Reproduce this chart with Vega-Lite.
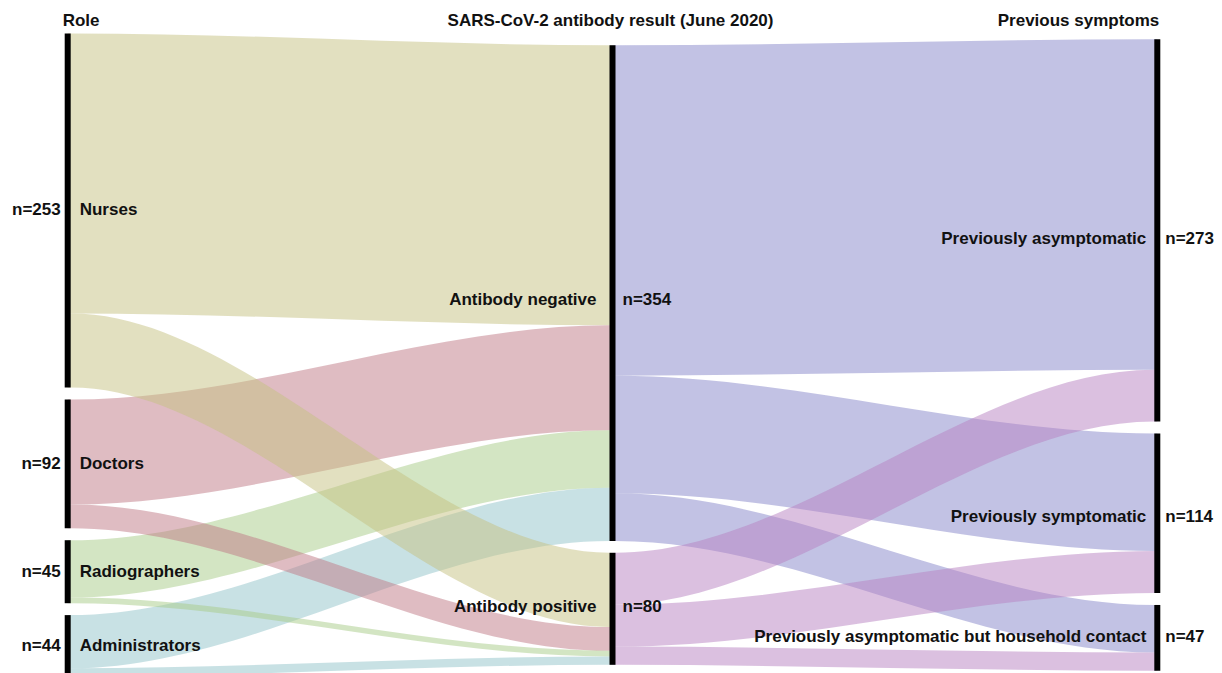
{
  "$schema": "https://vega.github.io/schema/vega-lite/v6.json",
  "width": 1222,
  "height": 673,
  "autosize": "none",
  "padding": 0,
  "background": "white",
  "config": {"view": {"stroke": null}, "text": {"font": "Liberation Sans", "fontWeight": "bold", "fontSize": 17, "color": "#111111"}},
  "datasets": {
    "links": [
      {"link": "N-neg", "src": "Nurses", "x": 0, "top": 23.85, "bottom": 223.85},
      {"link": "N-neg", "src": "Nurses", "x": 0.006, "top": 23.85, "bottom": 223.85},
      {"link": "N-neg", "src": "Nurses", "x": 0.994, "top": 32.35, "bottom": 232.35},
      {"link": "N-neg", "src": "Nurses", "x": 1, "top": 32.35, "bottom": 232.35},
      {"link": "D-neg", "src": "Doctors", "x": 0, "top": 285.35, "bottom": 360.35},
      {"link": "D-neg", "src": "Doctors", "x": 0.006, "top": 285.35, "bottom": 360.35},
      {"link": "D-neg", "src": "Doctors", "x": 0.994, "top": 232.35, "bottom": 307.35},
      {"link": "D-neg", "src": "Doctors", "x": 1, "top": 232.35, "bottom": 307.35},
      {"link": "R-neg", "src": "Radiographers", "x": 0, "top": 385.85, "bottom": 426.85},
      {"link": "R-neg", "src": "Radiographers", "x": 0.006, "top": 385.85, "bottom": 426.85},
      {"link": "R-neg", "src": "Radiographers", "x": 0.994, "top": 307.35, "bottom": 348.35},
      {"link": "R-neg", "src": "Radiographers", "x": 1, "top": 307.35, "bottom": 348.35},
      {"link": "A-neg", "src": "Administrators", "x": 0, "top": 439.35, "bottom": 477.35},
      {"link": "A-neg", "src": "Administrators", "x": 0.006, "top": 439.35, "bottom": 477.35},
      {"link": "A-neg", "src": "Administrators", "x": 0.994, "top": 348.35, "bottom": 386.35},
      {"link": "A-neg", "src": "Administrators", "x": 1, "top": 348.35, "bottom": 386.35},
      {"link": "N-pos", "src": "Nurses", "x": 0, "top": 223.85, "bottom": 276.85},
      {"link": "N-pos", "src": "Nurses", "x": 0.006, "top": 223.85, "bottom": 276.85},
      {"link": "N-pos", "src": "Nurses", "x": 0.994, "top": 394.85, "bottom": 447.85},
      {"link": "N-pos", "src": "Nurses", "x": 1, "top": 394.85, "bottom": 447.85},
      {"link": "D-pos", "src": "Doctors", "x": 0, "top": 360.35, "bottom": 377.35},
      {"link": "D-pos", "src": "Doctors", "x": 0.006, "top": 360.35, "bottom": 377.35},
      {"link": "D-pos", "src": "Doctors", "x": 0.994, "top": 447.85, "bottom": 464.85},
      {"link": "D-pos", "src": "Doctors", "x": 1, "top": 447.85, "bottom": 464.85},
      {"link": "R-pos", "src": "Radiographers", "x": 0, "top": 426.85, "bottom": 430.85},
      {"link": "R-pos", "src": "Radiographers", "x": 0.006, "top": 426.85, "bottom": 430.85},
      {"link": "R-pos", "src": "Radiographers", "x": 0.994, "top": 464.85, "bottom": 468.85},
      {"link": "R-pos", "src": "Radiographers", "x": 1, "top": 464.85, "bottom": 468.85},
      {"link": "A-pos", "src": "Administrators", "x": 0, "top": 477.35, "bottom": 483.35},
      {"link": "A-pos", "src": "Administrators", "x": 0.006, "top": 477.35, "bottom": 483.35},
      {"link": "A-pos", "src": "Administrators", "x": 0.994, "top": 468.85, "bottom": 474.85},
      {"link": "A-pos", "src": "Administrators", "x": 1, "top": 468.85, "bottom": 474.85},
      {"link": "neg-asym", "src": "Antibody negative", "x": 1, "top": 32.35, "bottom": 268.35},
      {"link": "neg-asym", "src": "Antibody negative", "x": 1.006, "top": 32.35, "bottom": 268.35},
      {"link": "neg-asym", "src": "Antibody negative", "x": 1.994, "top": 28.1, "bottom": 264.1},
      {"link": "neg-asym", "src": "Antibody negative", "x": 2, "top": 28.1, "bottom": 264.1},
      {"link": "neg-sym", "src": "Antibody negative", "x": 1, "top": 268.35, "bottom": 352.35},
      {"link": "neg-sym", "src": "Antibody negative", "x": 1.006, "top": 268.35, "bottom": 352.35},
      {"link": "neg-sym", "src": "Antibody negative", "x": 1.994, "top": 309.6, "bottom": 393.6},
      {"link": "neg-sym", "src": "Antibody negative", "x": 2, "top": 309.6, "bottom": 393.6},
      {"link": "neg-house", "src": "Antibody negative", "x": 1, "top": 352.35, "bottom": 386.35},
      {"link": "neg-house", "src": "Antibody negative", "x": 1.006, "top": 352.35, "bottom": 386.35},
      {"link": "neg-house", "src": "Antibody negative", "x": 1.994, "top": 432.1, "bottom": 466.1},
      {"link": "neg-house", "src": "Antibody negative", "x": 2, "top": 432.1, "bottom": 466.1},
      {"link": "pos-asym", "src": "Antibody positive", "x": 1, "top": 394.85, "bottom": 431.85},
      {"link": "pos-asym", "src": "Antibody positive", "x": 1.006, "top": 394.85, "bottom": 431.85},
      {"link": "pos-asym", "src": "Antibody positive", "x": 1.994, "top": 264.1, "bottom": 301.1},
      {"link": "pos-asym", "src": "Antibody positive", "x": 2, "top": 264.1, "bottom": 301.1},
      {"link": "pos-sym", "src": "Antibody positive", "x": 1, "top": 431.85, "bottom": 461.85},
      {"link": "pos-sym", "src": "Antibody positive", "x": 1.006, "top": 431.85, "bottom": 461.85},
      {"link": "pos-sym", "src": "Antibody positive", "x": 1.994, "top": 393.6, "bottom": 423.6},
      {"link": "pos-sym", "src": "Antibody positive", "x": 2, "top": 393.6, "bottom": 423.6},
      {"link": "pos-house", "src": "Antibody positive", "x": 1, "top": 461.85, "bottom": 474.85},
      {"link": "pos-house", "src": "Antibody positive", "x": 1.006, "top": 461.85, "bottom": 474.85},
      {"link": "pos-house", "src": "Antibody positive", "x": 1.994, "top": 466.1, "bottom": 479.1},
      {"link": "pos-house", "src": "Antibody positive", "x": 2, "top": 466.1, "bottom": 479.1}
    ],
    "nodes": [
      {"stage": 0, "key": "nurses", "name": "Nurses", "nlabel": "n=253", "top": 23.85, "bottom": 276.85},
      {"stage": 0, "key": "doctors", "name": "Doctors", "nlabel": "n=92", "top": 285.35, "bottom": 377.35},
      {"stage": 0, "key": "radio", "name": "Radiographers", "nlabel": "n=45", "top": 385.85, "bottom": 430.85},
      {"stage": 0, "key": "admin", "name": "Administrators", "nlabel": "n=44", "top": 439.35, "bottom": 483.35},
      {"stage": 1, "key": "neg", "name": "Antibody negative", "nlabel": "n=354", "top": 32.35, "bottom": 386.35},
      {"stage": 1, "key": "pos", "name": "Antibody positive", "nlabel": "n=80", "top": 394.85, "bottom": 474.85},
      {"stage": 2, "key": "asym", "name": "Previously asymptomatic", "nlabel": "n=273", "top": 28.1, "bottom": 301.1},
      {"stage": 2, "key": "sym", "name": "Previously symptomatic", "nlabel": "n=114", "top": 309.6, "bottom": 423.6},
      {"stage": 2, "key": "house", "name": "Previously asymptomatic but household contact", "nlabel": "n=47", "top": 432.1, "bottom": 479.1}
    ],
    "headers": [
      {"stage": 0, "header": "Role", "ypos": 14},
      {"stage": 1, "header": "SARS-CoV-2 antibody result (June 2020)", "ypos": 14},
      {"stage": 2, "header": "Previous symptoms", "ypos": 14}
    ]
  },
  "layer": [
    {
      "data": {"name": "links"},
      "mark": {"type": "area", "interpolate": "monotone", "opacity": 0.5},
      "encoding": {
        "x": {"field": "x", "type": "quantitative", "scale": {"domain": [-0.12427, 2.11876], "nice": false, "zero": false}, "axis": null},
        "y": {"field": "top", "type": "quantitative", "stack": null, "scale": {"domain": [0, 480.7], "reverse": true, "nice": false, "zero": false}, "axis": null},
        "y2": {"field": "bottom"},
        "color": {"field": "src", "type": "nominal", "legend": null,
          "scale": {"domain": ["Nurses", "Doctors", "Radiographers", "Administrators", "Antibody negative", "Antibody positive"],
                    "range": ["#c5c181", "#bf7985", "#a7cb87", "#91c3c9", "#8585c9", "#b781c1"]}},
        "detail": {"field": "link", "type": "nominal"}
      }
    },
    {
      "data": {"name": "nodes"},
      "mark": {"type": "rule", "strokeWidth": 6, "color": "black", "strokeCap": "butt"},
      "encoding": {
        "x": {"field": "stage", "type": "quantitative", "scale": {"domain": [-0.12427, 2.11876], "nice": false, "zero": false}, "axis": null},
        "y": {"field": "top", "type": "quantitative", "scale": {"domain": [0, 480.7], "reverse": true, "nice": false, "zero": false}, "axis": null},
        "y2": {"field": "bottom"}
      }
    },
    {
      "data": {"name": "nodes"},
      "transform": [{"filter": "datum.stage == 0"}, {"calculate": "(datum.top + datum.bottom) / 2", "as": "mid"}],
      "mark": {"type": "text", "align": "left", "baseline": "middle", "dx": 12},
      "encoding": {
        "x": {"field": "stage", "type": "quantitative", "scale": {"domain": [-0.12427, 2.11876], "nice": false, "zero": false}, "axis": null},
        "y": {"field": "mid", "type": "quantitative", "scale": {"domain": [0, 480.7], "reverse": true, "nice": false, "zero": false}, "axis": null},
        "text": {"field": "name"}
      }
    },
    {
      "data": {"name": "nodes"},
      "transform": [{"filter": "datum.stage == 0"}, {"calculate": "(datum.top + datum.bottom) / 2", "as": "mid"}],
      "mark": {"type": "text", "align": "right", "baseline": "middle", "dx": -7},
      "encoding": {
        "x": {"field": "stage", "type": "quantitative", "scale": {"domain": [-0.12427, 2.11876], "nice": false, "zero": false}, "axis": null},
        "y": {"field": "mid", "type": "quantitative", "scale": {"domain": [0, 480.7], "reverse": true, "nice": false, "zero": false}, "axis": null},
        "text": {"field": "nlabel"}
      }
    },
    {
      "data": {"name": "nodes"},
      "transform": [{"filter": "datum.key == 'neg'"}, {"calculate": "(datum.top + datum.bottom) / 2", "as": "mid"}],
      "mark": {"type": "text", "align": "right", "baseline": "middle", "dx": -16, "dy": 7},
      "encoding": {
        "x": {"field": "stage", "type": "quantitative", "scale": {"domain": [-0.12427, 2.11876], "nice": false, "zero": false}, "axis": null},
        "y": {"field": "mid", "type": "quantitative", "scale": {"domain": [0, 480.7], "reverse": true, "nice": false, "zero": false}, "axis": null},
        "text": {"field": "name"}
      }
    },
    {
      "data": {"name": "nodes"},
      "transform": [{"filter": "datum.key == 'neg'"}, {"calculate": "(datum.top + datum.bottom) / 2", "as": "mid"}],
      "mark": {"type": "text", "align": "left", "baseline": "middle", "dx": 10, "dy": 7},
      "encoding": {
        "x": {"field": "stage", "type": "quantitative", "scale": {"domain": [-0.12427, 2.11876], "nice": false, "zero": false}, "axis": null},
        "y": {"field": "mid", "type": "quantitative", "scale": {"domain": [0, 480.7], "reverse": true, "nice": false, "zero": false}, "axis": null},
        "text": {"field": "nlabel"}
      }
    },
    {
      "data": {"name": "nodes"},
      "transform": [{"filter": "datum.key == 'pos'"}, {"calculate": "(datum.top + datum.bottom) / 2", "as": "mid"}],
      "mark": {"type": "text", "align": "right", "baseline": "middle", "dx": -16, "dy": -2},
      "encoding": {
        "x": {"field": "stage", "type": "quantitative", "scale": {"domain": [-0.12427, 2.11876], "nice": false, "zero": false}, "axis": null},
        "y": {"field": "mid", "type": "quantitative", "scale": {"domain": [0, 480.7], "reverse": true, "nice": false, "zero": false}, "axis": null},
        "text": {"field": "name"}
      }
    },
    {
      "data": {"name": "nodes"},
      "transform": [{"filter": "datum.key == 'pos'"}, {"calculate": "(datum.top + datum.bottom) / 2", "as": "mid"}],
      "mark": {"type": "text", "align": "left", "baseline": "middle", "dx": 10, "dy": -2},
      "encoding": {
        "x": {"field": "stage", "type": "quantitative", "scale": {"domain": [-0.12427, 2.11876], "nice": false, "zero": false}, "axis": null},
        "y": {"field": "mid", "type": "quantitative", "scale": {"domain": [0, 480.7], "reverse": true, "nice": false, "zero": false}, "axis": null},
        "text": {"field": "nlabel"}
      }
    },
    {
      "data": {"name": "nodes"},
      "transform": [{"filter": "datum.key == 'asym'"}, {"calculate": "(datum.top + datum.bottom) / 2", "as": "mid"}],
      "mark": {"type": "text", "align": "right", "baseline": "middle", "dx": -11, "dy": 9},
      "encoding": {
        "x": {"field": "stage", "type": "quantitative", "scale": {"domain": [-0.12427, 2.11876], "nice": false, "zero": false}, "axis": null},
        "y": {"field": "mid", "type": "quantitative", "scale": {"domain": [0, 480.7], "reverse": true, "nice": false, "zero": false}, "axis": null},
        "text": {"field": "name"}
      }
    },
    {
      "data": {"name": "nodes"},
      "transform": [{"filter": "datum.key == 'asym'"}, {"calculate": "(datum.top + datum.bottom) / 2", "as": "mid"}],
      "mark": {"type": "text", "align": "left", "baseline": "middle", "dx": 8, "dy": 9},
      "encoding": {
        "x": {"field": "stage", "type": "quantitative", "scale": {"domain": [-0.12427, 2.11876], "nice": false, "zero": false}, "axis": null},
        "y": {"field": "mid", "type": "quantitative", "scale": {"domain": [0, 480.7], "reverse": true, "nice": false, "zero": false}, "axis": null},
        "text": {"field": "nlabel"}
      }
    },
    {
      "data": {"name": "nodes"},
      "transform": [{"filter": "datum.key == 'sym'"}, {"calculate": "(datum.top + datum.bottom) / 2", "as": "mid"}],
      "mark": {"type": "text", "align": "right", "baseline": "middle", "dx": -11, "dy": 4},
      "encoding": {
        "x": {"field": "stage", "type": "quantitative", "scale": {"domain": [-0.12427, 2.11876], "nice": false, "zero": false}, "axis": null},
        "y": {"field": "mid", "type": "quantitative", "scale": {"domain": [0, 480.7], "reverse": true, "nice": false, "zero": false}, "axis": null},
        "text": {"field": "name"}
      }
    },
    {
      "data": {"name": "nodes"},
      "transform": [{"filter": "datum.key == 'sym'"}, {"calculate": "(datum.top + datum.bottom) / 2", "as": "mid"}],
      "mark": {"type": "text", "align": "left", "baseline": "middle", "dx": 8, "dy": 4},
      "encoding": {
        "x": {"field": "stage", "type": "quantitative", "scale": {"domain": [-0.12427, 2.11876], "nice": false, "zero": false}, "axis": null},
        "y": {"field": "mid", "type": "quantitative", "scale": {"domain": [0, 480.7], "reverse": true, "nice": false, "zero": false}, "axis": null},
        "text": {"field": "nlabel"}
      }
    },
    {
      "data": {"name": "nodes"},
      "transform": [{"filter": "datum.key == 'house'"}, {"calculate": "(datum.top + datum.bottom) / 2", "as": "mid"}],
      "mark": {"type": "text", "align": "right", "baseline": "middle", "dx": -11, "dy": -1},
      "encoding": {
        "x": {"field": "stage", "type": "quantitative", "scale": {"domain": [-0.12427, 2.11876], "nice": false, "zero": false}, "axis": null},
        "y": {"field": "mid", "type": "quantitative", "scale": {"domain": [0, 480.7], "reverse": true, "nice": false, "zero": false}, "axis": null},
        "text": {"field": "name"}
      }
    },
    {
      "data": {"name": "nodes"},
      "transform": [{"filter": "datum.key == 'house'"}, {"calculate": "(datum.top + datum.bottom) / 2", "as": "mid"}],
      "mark": {"type": "text", "align": "left", "baseline": "middle", "dx": 8, "dy": -1},
      "encoding": {
        "x": {"field": "stage", "type": "quantitative", "scale": {"domain": [-0.12427, 2.11876], "nice": false, "zero": false}, "axis": null},
        "y": {"field": "mid", "type": "quantitative", "scale": {"domain": [0, 480.7], "reverse": true, "nice": false, "zero": false}, "axis": null},
        "text": {"field": "nlabel"}
      }
    },
    {
      "data": {"name": "headers"},
      "transform": [{"filter": "datum.stage == 0"}],
      "mark": {"type": "text", "align": "left", "baseline": "middle", "dx": -5, "dy": 1},
      "encoding": {
        "x": {"field": "stage", "type": "quantitative", "scale": {"domain": [-0.12427, 2.11876], "nice": false, "zero": false}, "axis": null},
        "y": {"field": "ypos", "type": "quantitative", "scale": {"domain": [0, 480.7], "reverse": true, "nice": false, "zero": false}, "axis": null},
        "text": {"field": "header"}
      }
    },
    {
      "data": {"name": "headers"},
      "transform": [{"filter": "datum.stage == 1"}],
      "mark": {"type": "text", "align": "center", "baseline": "middle", "dx": -2, "dy": 1},
      "encoding": {
        "x": {"field": "stage", "type": "quantitative", "scale": {"domain": [-0.12427, 2.11876], "nice": false, "zero": false}, "axis": null},
        "y": {"field": "ypos", "type": "quantitative", "scale": {"domain": [0, 480.7], "reverse": true, "nice": false, "zero": false}, "axis": null},
        "text": {"field": "header"}
      }
    },
    {
      "data": {"name": "headers"},
      "transform": [{"filter": "datum.stage == 2"}],
      "mark": {"type": "text", "align": "right", "baseline": "middle", "dx": 2, "dy": 1},
      "encoding": {
        "x": {"field": "stage", "type": "quantitative", "scale": {"domain": [-0.12427, 2.11876], "nice": false, "zero": false}, "axis": null},
        "y": {"field": "ypos", "type": "quantitative", "scale": {"domain": [0, 480.7], "reverse": true, "nice": false, "zero": false}, "axis": null},
        "text": {"field": "header"}
      }
    }
  ]
}
